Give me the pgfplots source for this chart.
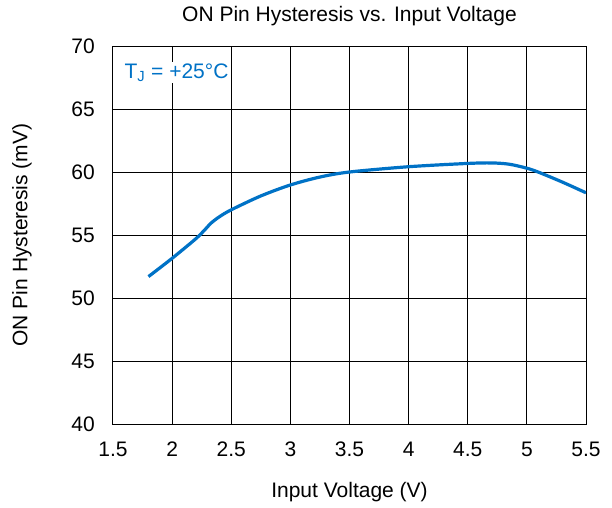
\documentclass[border=0pt]{standalone}
\usepackage{pgfplots}
\pgfplotsset{compat=1.18}
\usepackage{fontspec}
\setmainfont{Liberation Sans}
\definecolor{tiblue}{RGB}{0,114,198}
\begin{document}
\fontsize{21}{25}\selectfont
\begin{tikzpicture}
\begin{axis}[
  at={(0pt,0pt)}, anchor=south west,
  scale only axis,
  width=473pt, height=378pt,
  xmin=1.5, xmax=5.5, ymin=40, ymax=70,
  xtick={1.5,2,...,5.5},
  ytick={40,45,...,70},
  xticklabels={1.5,2,2.5,3,3.5,4,4.5,5,5.5},
  yticklabels={40,45,50,55,60,65,70},
  grid=major,
  major grid style={black, line width=1pt},
  axis line style={black, line width=1pt},
  tick style={draw=none},
  ticklabel style={font=\fontsize{21}{25}\selectfont},
  xticklabel style={yshift=-11pt},
  yticklabel style={xshift=-11pt},
  title={ON Pin Hysteresis vs. Input Voltage},
  every axis title/.style={at={(axis description cs:0.5,1.0794)}, anchor=center, font=\fontsize{21}{25}\selectfont},
  xlabel={Input Voltage (V)},
  ylabel={ON Pin Hysteresis (mV)},
  every axis x label/.style={at={(axis description cs:0.5,-0.1799)}, anchor=center, font=\fontsize{21}{25}\selectfont},
  every axis y label/.style={at={(axis description cs:-0.1924,0.5)}, anchor=center, rotate=90, font=\fontsize{21}{25}\selectfont},
  /pgf/number format/assume math mode=true,
]
\addplot[tiblue, line width=3.2pt, smooth, tension=0.5] coordinates {
(1.8,51.7) (2.0,53.15) (2.2,54.7) (2.27,55.35) (2.33,55.95) (2.4,56.45) (2.5,57.0)
(2.75,58.1) (3.0,58.97) (3.25,59.6) (3.5,60.0) (4.0,60.42) (4.5,60.68)
(4.7,60.72) (4.85,60.62) (5.0,60.3) (5.1,59.98) (5.3,59.2) (5.5,58.35)
};
\node[anchor=west, fill=white, text=tiblue, inner sep=2pt, font=\fontsize{21}{25}\selectfont] at (axis cs:1.58,67.9) {T\textsubscript{J} = +25°C};
\end{axis}
\pgfresetboundingbox
\useasboundingbox (-113pt,-83pt) rectangle (499pt,424pt);
\end{tikzpicture}
\end{document}
